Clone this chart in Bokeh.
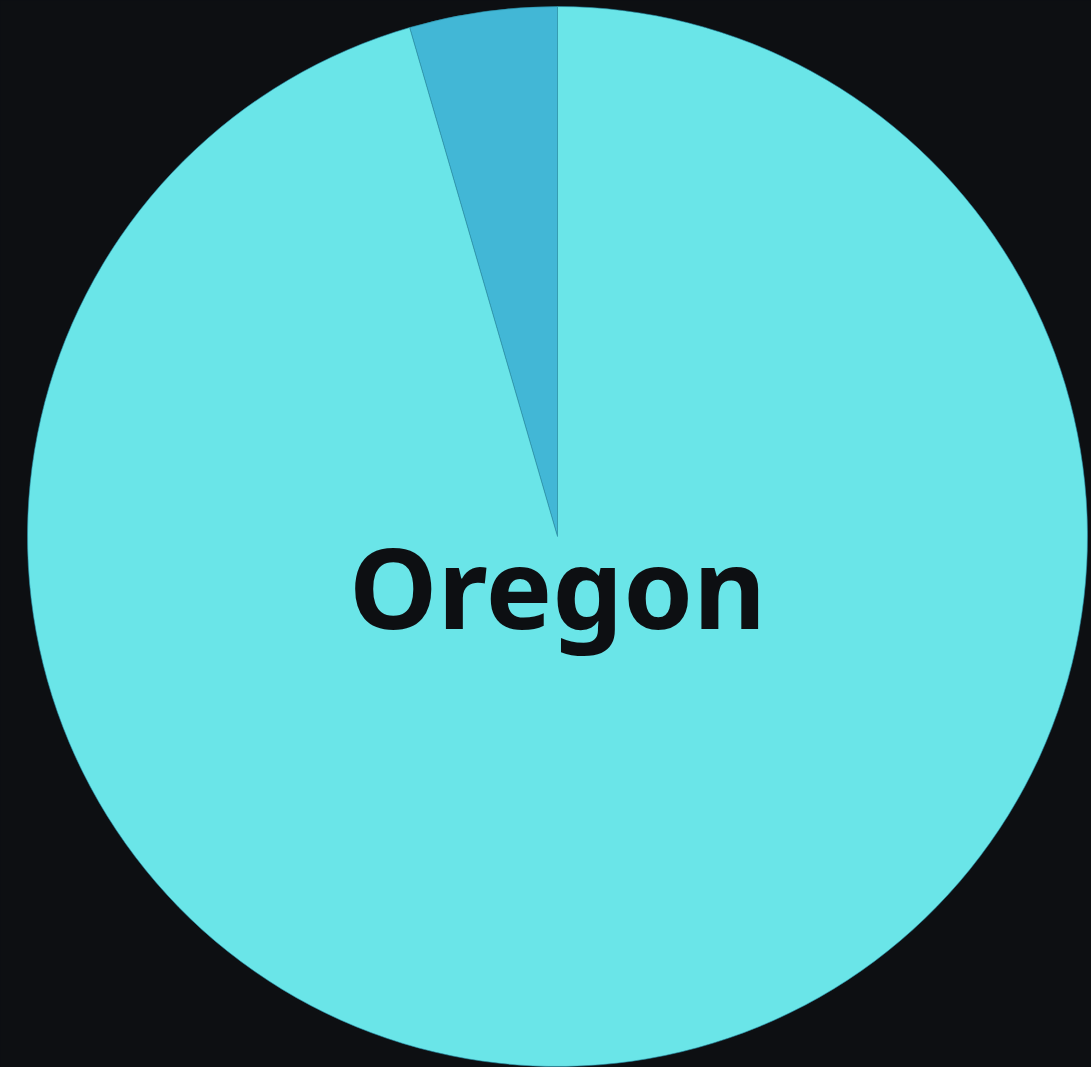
import math
from bokeh.plotting import figure
from bokeh.models import ColumnDataSource
from bokeh.core.properties import value
from bokeh.embed import file_html
from bokeh.resources import INLINE

categories = ["Other", "Oregon"]
values = [4.5, 95.5]
colors = ["#42b7d6", "#6ae5e8"]
center_label = "Oregon"

W, H = 1091, 1067
cx, cy, r = 557, H - 536, 530

total = sum(values)
starts, ends = [], []
a = math.pi / 2
for v in values:
    starts.append(a)
    a += v / total * 2 * math.pi
    ends.append(a)

src = ColumnDataSource(dict(cat=categories, val=values, start=starts, end=ends, color=colors))

p = figure(width=W, height=H, x_range=(0, W), y_range=(0, H), output_backend="svg",
           toolbar_location=None, min_border=0, background_fill_color="#0d0f12",
           border_fill_color="#0d0f12", outline_line_color=None)
p.axis.visible = False
p.grid.visible = False

p.wedge(x=cx, y=cy, radius=r, start_angle="start", end_angle="end", fill_color="color",
        line_color="#2a8fa8", line_width=0.6, source=src)

p.text(x=[cx], y=[H - 585], text=[center_label], text_align="center", text_baseline="middle",
       text_font=value("Noto Sans"), text_font_style="bold", text_font_size="112px", text_color="#0d0f12")

html = file_html(p, INLINE)
html = html.replace("<head>", "<head><style>html,body{background:#0d0f12;margin:0;}</style>", 1)
open("out.html", "w").write(html)
